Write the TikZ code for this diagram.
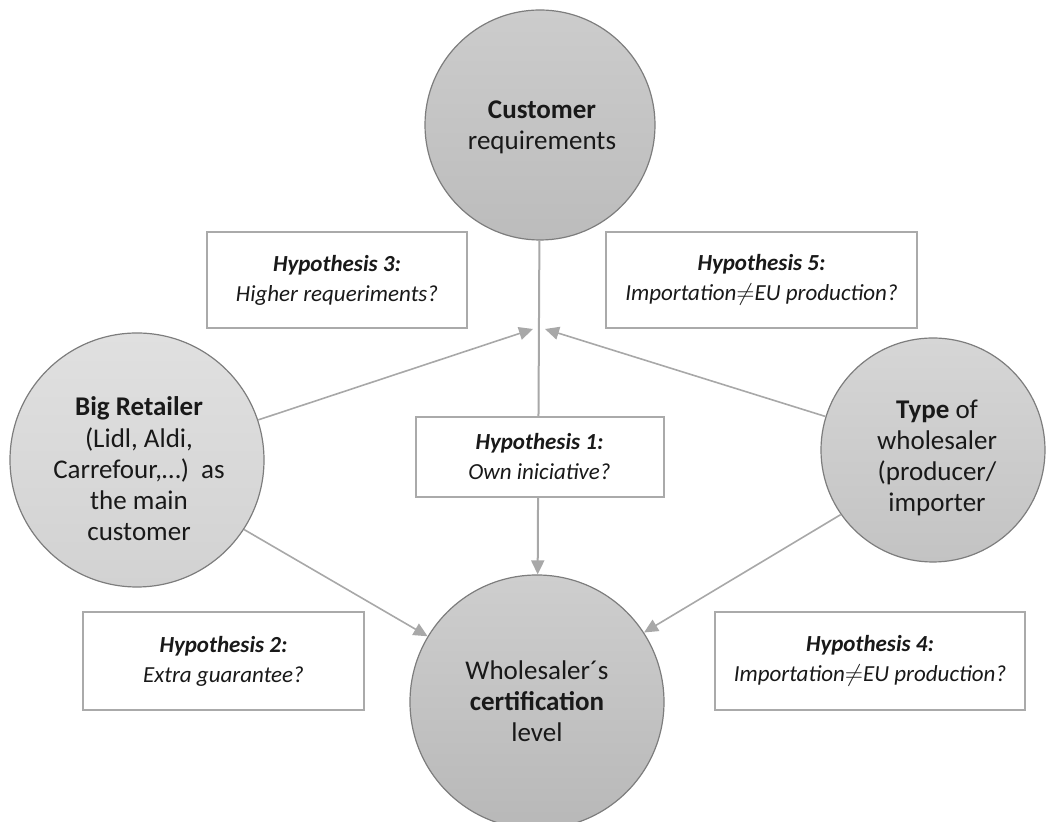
\documentclass[tikz,border=0pt]{standalone}
\usepackage{fontspec}
\setmainfont{Carlito}
\usetikzlibrary{arrows.meta}
\definecolor{circborder}{RGB}{125,125,125}
\definecolor{boxborder}{RGB}{170,170,170}
\definecolor{conncol}{RGB}{168,168,168}
\definecolor{txt}{RGB}{25,25,25}
\tikzset{
  circ/.style={circle, draw=circborder, line width=0.6pt, inner sep=0pt,
    minimum size=#1, align=center, text=txt,
    font=\fontsize{13.5}{15.7}\selectfont},
  circtext/.style={align=center, inner sep=0pt, text=txt,
    font=\fontsize{13.5}{15.6}\selectfont},
  hypbox/.style={rectangle, draw=boxborder, line width=1pt, fill=white,
    align=center, inner sep=0pt, text=txt,
    font=\fontsize{11.5}{15}\selectfont},
  conn/.style={draw=conncol, line width=0.8pt,
    -{Triangle[length=7pt,width=6.5pt]}},
}
\begin{document}
\begin{tikzpicture}[x=0.5pt,y=-0.5pt]
\path[use as bounding box] (0,0) rectangle (1046,822);

% circles
\node[circ=115pt, top color={rgb,255:red,204;green,204;blue,204}, bottom color={rgb,255:red,188;green,188;blue,188}]
  (top) at (540,125) {};
\node[circtext] (toptext) at (542,127) {\textbf{Customer}\\requirements};
\node[circ=127pt, top color={rgb,255:red,224;green,224;blue,224}, bottom color={rgb,255:red,210;green,210;blue,210}]
  (left) at (137,460) {};
\node[circtext] (lefttext) at (139,469)
  {\textbf{Big Retailer}\\(Lidl, Aldi,\\Carrefour,…)~~as\\the main\\customer};
\node[circ=112pt, top color={rgb,255:red,214;green,214;blue,214}, bottom color={rgb,255:red,195;green,195;blue,195}]
  (right) at (933,450) {};
\node[circtext] (righttext) at (937,458)
  {\textbf{Type} of\\wholesaler\\(producer/\\importer};
\node[circ=127pt, top color={rgb,255:red,206;green,206;blue,206}, bottom color={rgb,255:red,184;green,184;blue,184}]
  (bot) at (537,702) {};
\node[circtext] (bottext) at (537,701) {Wholesaler´s\\\textbf{certification}\\level};

% connectors
\coordinate (hubL) at (533,329);
\coordinate (hubR) at (545,329);
\draw[conn, line width=1pt] (top) -- (bot);
\draw[conn] (left) -- (hubL);
\draw[conn] (right) -- (hubR);
\draw[conn] (left.-33) -- (bot.149);
\draw[conn] (right.215) -- (bot.33);

% hypothesis boxes
\node[hypbox, minimum width=130pt, minimum height=48pt] (h3) at (337,280)
  {\textbf{\textit{Hypothesis 3:}}\\\textit{Higher requeriments?}};
\node[hypbox, minimum width=155.5pt, minimum height=48pt] (h5) at (761.5,280)
  {\textbf{\textit{Hypothesis 5:}}\\\textit{Importation}$\neq$\textit{EU production?}};
\node[hypbox, minimum width=124pt, minimum height=40pt] (h1) at (539.5,457)
  {\textbf{\textit{Hypothesis 1:}}\\\textit{Own iniciative?}};
\node[hypbox, minimum width=140.5pt, minimum height=49pt] (h2) at (223.5,661)
  {\textbf{\textit{Hypothesis 2:}}\\\textit{Extra guarantee?}};
\node[hypbox, minimum width=155pt, minimum height=49pt] (h4) at (870,661)
  {\textbf{\textit{Hypothesis 4:}}\\\textit{Importation}$\neq$\textit{EU production?}};
\end{tikzpicture}
\end{document}
